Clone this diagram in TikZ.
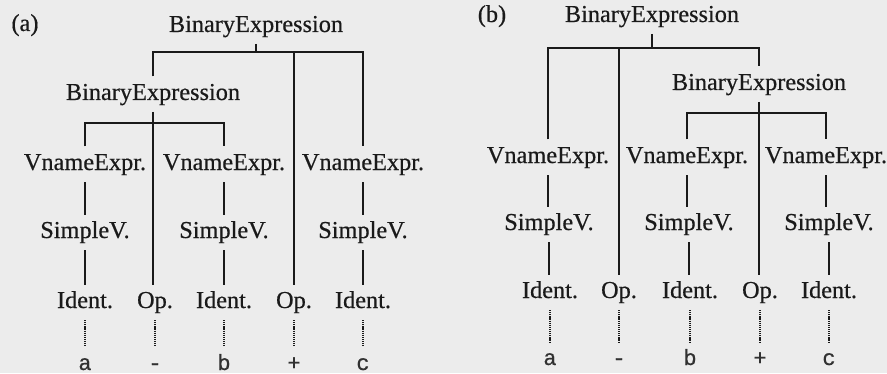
\documentclass[tikz,border=0pt]{standalone}
\usepackage{fontspec}
\setmainfont{Liberation Serif}[FakeBold=0.5]
\newfontfamily\leaffont{Liberation Mono}[FakeBold=0.6]
\definecolor{paper}{HTML}{ECECEC}
\definecolor{ink}{HTML}{1A1A1A}
\begin{document}
\begin{tikzpicture}[x=1pt,y=1pt,
  lbl/.style={inner sep=0pt, outer xsep=0pt, outer ysep=7pt, text height=16.5pt, text depth=5pt, anchor=base, font=\fontsize{24.3}{28}\selectfont, text=ink},
  leaf/.style={inner sep=0pt, outer xsep=0pt, outer ysep=9pt, text height=14pt, text depth=0pt, anchor=base, font=\leaffont\fontsize{22}{24}\selectfont, text=ink!90},
  conn/.style={draw=ink, line width=2.2pt},
  dots/.style={draw=ink, line width=1.4pt, dash pattern=on 1.2pt off 0.9pt}]
\fill[paper] (0,0) rectangle (887,373);
\useasboundingbox (0,0) rectangle (887,373);

% ---------- (a) ----------
\node[lbl] (la) at (25,342) {(a)};
\node[lbl] (A0) at (256,341) {BinaryExpression};
\node[lbl] (A1) at (153,273) {BinaryExpression};
\node[lbl] (V1a) at (85,203) {VnameExpr.};
\node[lbl] (V2a) at (224,203) {VnameExpr.};
\node[lbl] (V3a) at (363,203) {VnameExpr.};
\node[lbl] (S1a) at (85,135) {SimpleV.};
\node[lbl] (S2a) at (224,135) {SimpleV.};
\node[lbl] (S3a) at (363,135) {SimpleV.};
\node[lbl] (I1a) at (85,65) {Ident.};
\node[lbl] (O1a) at (155,65) {Op.};
\node[lbl] (I2a) at (224,65) {Ident.};
\node[lbl] (O2a) at (294,65) {Op.};
\node[lbl] (I3a) at (363,65) {Ident.};
\node[leaf] (L1a) at (85,3) {a};
\node[leaf] (L2a) at (155,3) {-};
\node[leaf] (L3a) at (224,3) {b};
\node[leaf] (L4a) at (294,3) {+};
\node[leaf] (L5a) at (363,3) {c};

\coordinate (a0j) at (256,321);
\coordinate (a1j) at (153,250);
\draw[conn] (A0.south) -- (a0j);
\draw[conn] (A1.north) -- (A1.north |- a0j) -- (V3a.north |- a0j) -- (V3a.north);
\draw[conn] (O2a.north) -- (O2a.north |- a0j);
\draw[conn] (V1a.north) -- (V1a.north |- a1j) -- (V2a.north |- a1j) -- (V2a.north);
\draw[conn] (A1.south) -- (A1.south |- O1a.north);
\foreach \c in {1,2,3}{
  \draw[conn] (V\c a.south) -- (S\c a.north);
  \draw[conn] (S\c a.south) -- (S\c a.south |- I\c a.north);
}
\draw[dots] (I1a.south) -- (L1a.north);
\draw[dots] (O1a.south) -- (L2a.north);
\draw[dots] (I2a.south) -- (L3a.north);
\draw[dots] (O2a.south) -- (L4a.north);
\draw[dots] (I3a.south) -- (L5a.north);

% ---------- (b) ----------
\node[lbl] (lb) at (492,351) {(b)};
\node[lbl] (B0) at (652,351) {BinaryExpression};
\node[lbl] (B1) at (759,283) {BinaryExpression};
\node[lbl] (V1b) at (548,210) {VnameExpr.};
\node[lbl] (V2b) at (687,210) {VnameExpr.};
\node[lbl] (V3b) at (826,210) {VnameExpr.};
\node[lbl] (S1b) at (549,143) {SimpleV.};
\node[lbl] (S2b) at (689,143) {SimpleV.};
\node[lbl] (S3b) at (829,143) {SimpleV.};
\node[lbl] (I1b) at (550,75) {Ident.};
\node[lbl] (O1b) at (619,75) {Op.};
\node[lbl] (I2b) at (690,75) {Ident.};
\node[lbl] (O2b) at (760,75) {Op.};
\node[lbl] (I3b) at (829,75) {Ident.};
\node[leaf] (L1b) at (550,8) {a};
\node[leaf] (L2b) at (619,8) {-};
\node[leaf] (L3b) at (690,8) {b};
\node[leaf] (L4b) at (760,8) {+};
\node[leaf] (L5b) at (829,8) {c};

\coordinate (b0j) at (652,325);
\coordinate (b1j) at (759,260);
\draw[conn] (B0.south) -- (b0j);
\draw[conn] (V1b.north) -- (V1b.north |- b0j) -- (B1.north |- b0j) -- (B1.north);
\draw[conn] (O1b.north) -- (O1b.north |- b0j);
\draw[conn] (V2b.north) -- (V2b.north |- b1j) -- (V3b.north |- b1j) -- (V3b.north);
\draw[conn] (B1.south) -- (B1.south |- O2b.north);
\foreach \c in {1,2,3}{
  \draw[conn] (V\c b.south) -- (V\c b.south |- S\c b.north);
  \draw[conn] (S\c b.south) -- (S\c b.south |- I\c b.north);
}
\draw[dots] (I1b.south) -- (L1b.north);
\draw[dots] (O1b.south) -- (L2b.north);
\draw[dots] (I2b.south) -- (L3b.north);
\draw[dots] (O2b.south) -- (L4b.north);
\draw[dots] (I3b.south) -- (L5b.north);
\end{tikzpicture}
\end{document}
